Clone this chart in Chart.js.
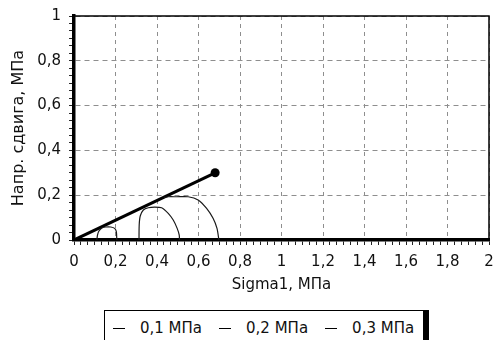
<!DOCTYPE html>
<html>
<head>
<meta charset="utf-8">
<script src="https://cdn.jsdelivr.net/npm/chart.js@4.4.1/dist/chart.umd.min.js"></script>
<style>
html,body{margin:0;padding:0;background:#fff;}
#wrap{position:relative;width:494px;height:340px;overflow:hidden;background:#fff;}
#c{position:absolute;left:0;top:0;}
#legend{position:absolute;left:104px;top:310px;height:40px;box-sizing:border-box;border:1px solid #000;border-right:6px solid #000;border-bottom:6px solid #000;font:15px "DejaVu Sans",sans-serif;color:#111;padding:8px 9px 0 8px;white-space:nowrap;line-height:18px;}
#legend .mk{display:inline-block;width:12px;height:0;border-top:1.5px solid #000;vertical-align:middle;margin-right:15px;}
#legend .it{margin-right:17px;}
#legend .it:last-child{margin-right:0;}
</style>
</head>
<body>
<div id="wrap">
<canvas id="c" width="494" height="300"></canvas>
<div id="legend"></div>
</div>
<script>
// ---- data ----
const xTickLabels = ['0','0,2','0,4','0,6','0,8','1','1,2','1,4','1,6','1,8','2'];
const yTickLabels = ['0','0,2','0,4','0,6','0,8','1'];
const minorPerMajor = 6;
const seriesLabels = ['0,1 МПа','0,2 МПа','0,3 МПа'];
const xTitle = 'Sigma1, МПа';
const yTitle = 'Напр. сдвига, МПа';

// strength envelope line
const envelopeX = [0, 0.68];
const envelopeY = [0, 0.30];

// Mohr semicircles (traced)
const circle1X = [0.110,0.113,0.120,0.134,0.153,0.177,0.197,0.204,0.206];
const circle1Y = [0,0.022,0.040,0.054,0.058,0.058,0.051,0.036,0];
const circle2X = [0.313,0.314,0.319,0.334,0.358,0.388,0.422,0.454,0.478,0.497,0.507,0.508];
const circle2Y = [0,0.067,0.107,0.134,0.144,0.147,0.144,0.119,0.089,0.052,0.022,0];
const circle3X = [0.432,0.454,0.494,0.550,0.598,0.638,0.670,0.689,0.697,0.698];
const circle3Y = [0.190,0.193,0.193,0.193,0.179,0.142,0.097,0.052,0.008,0];

// ---- build ----
const toNum = s => parseFloat(s.replace(',', '.'));
const xMajors = xTickLabels.map(toNum);
const yMajors = yTickLabels.map(toNum);
const pts = (xs, ys) => xs.map((x, i) => ({x, y: ys[i]}));

function tickBuilder(majors) {
  return function(scale) {
    const t = [];
    majors.forEach((v, i) => {
      t.push({value: v});
      if (i < majors.length - 1) {
        for (let k = 1; k < minorPerMajor; k++) t.push({value: v + (majors[i+1] - v) * k / minorPerMajor});
      }
    });
    scale.ticks = t;
  };
}
function labelFor(majors, labels, v) {
  const i = majors.findIndex(m => Math.abs(m - v) < 1e-9);
  return i >= 0 ? labels[i] : '';
}
function isMajor(majors, v) { return majors.some(m => Math.abs(m - v) < 1e-9); }

const FONT = {family: 'DejaVu Sans', size: 15, lineHeight: 1};
const arcStyle = {showLine: true, pointRadius: 0, borderColor: '#1a1a1a', borderWidth: 1.2, tension: 0.25, fill: false};

const frame = {
  id: 'frame',
  afterDatasetsDraw(chart) {
    const {ctx, chartArea: a} = chart;
    ctx.save();
    ctx.strokeStyle = '#000';
    ctx.lineWidth = 1.5;
    ctx.beginPath();
    ctx.moveTo(a.left, a.top);
    ctx.lineTo(a.right, a.top);
    ctx.lineTo(a.right, a.bottom);
    ctx.stroke();
    ctx.restore();
  }
};

new Chart(document.getElementById('c'), {
  type: 'scatter',
  data: {
    datasets: [
      Object.assign({label: seriesLabels[0], data: pts(circle1X, circle1Y)}, arcStyle),
      Object.assign({label: seriesLabels[1], data: pts(circle2X, circle2Y)}, arcStyle),
      Object.assign({label: seriesLabels[2], data: pts(circle3X, circle3Y)}, arcStyle),
      {label: 'envelope', data: pts(envelopeX, envelopeY), showLine: true, borderColor: '#000', borderWidth: 3,
       pointRadius: [0, 4.5], pointBackgroundColor: '#000', pointBorderColor: '#000', pointBorderWidth: 0}
    ]
  },
  options: {
    responsive: false,
    devicePixelRatio: 1,
    animation: false,
    layout: {padding: {left: 0, right: 0, top: 16, bottom: 9}},
    plugins: {legend: {display: false}, tooltip: {enabled: false}, title: {display: false}},
    scales: {
      x: {
        type: 'linear', min: 0, max: 2,
        afterBuildTicks: tickBuilder(xMajors),
        afterFit: s => { s.paddingRight = 5; s.paddingLeft = 0; },
        ticks: {autoSkip: false, maxRotation: 0, minRotation: 0, padding: 9.5, color: '#111', font: FONT,
                callback: v => labelFor(xMajors, xTickLabels, v)},
        grid: {color: c => (c.tick && isMajor(xMajors, c.tick.value)) ? '#8e8e8e' : 'rgba(0,0,0,0)',
               lineWidth: 1, tickLength: 5, tickColor: '#222', tickWidth: 1},
        border: {display: true, color: '#000', width: 3.5, dash: [4, 4]},
        title: {display: true, text: xTitle, color: '#111', font: {family: 'DejaVu Sans', size: 15, lineHeight: 0.8}, padding: {top: 0, bottom: 0}}
      },
      y: {
        type: 'linear', min: 0, max: 1,
        afterBuildTicks: tickBuilder(yMajors),
        ticks: {autoSkip: false, padding: 8, color: '#111', font: FONT,
                callback: v => labelFor(yMajors, yTickLabels, v)},
        grid: {color: c => (c.tick && isMajor(yMajors, c.tick.value)) ? '#8e8e8e' : 'rgba(0,0,0,0)',
               lineWidth: 1, tickLength: 5, tickColor: '#222', tickWidth: 1},
        border: {display: true, color: '#000', width: 3.5, dash: [5, 4]},
        title: {display: true, text: yTitle, color: '#111', font: {family: 'DejaVu Sans', size: 16}, padding: {top: 9, bottom: 1}}
      }
    }
  },
  plugins: [frame]
});

// HTML legend from series labels
const lg = document.getElementById('legend');
seriesLabels.forEach(l => {
  const s = document.createElement('span');
  s.className = 'it';
  const m = document.createElement('span');
  m.className = 'mk';
  s.appendChild(m);
  s.appendChild(document.createTextNode(l));
  lg.appendChild(s);
});
</script>
</body>
</html>
